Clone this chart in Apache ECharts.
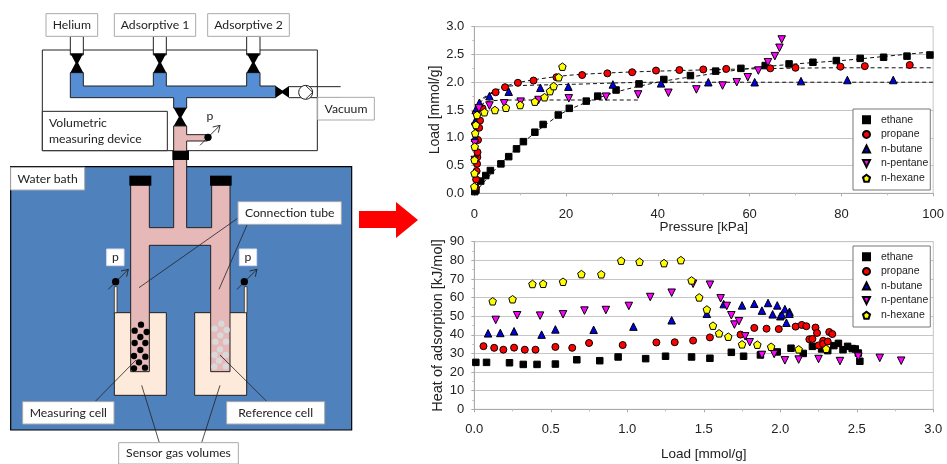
<!DOCTYPE html>
<html><head><meta charset="utf-8">
<style>html,body{margin:0;padding:0;background:#fff}#c{width:947px;height:464px}</style>
<script src="https://cdn.jsdelivr.net/npm/echarts@6/dist/echarts.min.js"></script>
</head><body><div id="c"></div>
<script>
const seriesNames = ['ethane','propane','n-butane','n-pentane','n-hexane'];
const seriesColors = ['#000000','#ff0000','#0000e0','#ff00ff','#ffff00'];
const pressureTicks = {min:0,max:100,interval:20};
const loadTicks = {min:0,max:3,interval:0.5};
const heatTicks = {min:0,max:90,interval:10};

// Isotherms: [pressure kPa, load mmol/g]
const ethaneIso = [[0.1,0.03],[0.36,0.06],[1.4,0.22],[2.5,0.32],[3.5,0.41],[5.8,0.53],[7.5,0.66],[9.2,0.80],[10.7,0.93],[13.2,1.10],[15,1.24],[18.3,1.41],[20.7,1.53],[24.4,1.66],[26.9,1.75],[30.9,1.86],[35.9,1.97],[41.3,2.05],[47.1,2.12],[52.6,2.20],[58.1,2.25],[63.4,2.30],[68.6,2.33],[73.8,2.36],[78.9,2.39],[84.1,2.43],[89.2,2.45],[94.3,2.47],[99.3,2.49]];
const propaneIso = [[0.3,0.1],[0.4,0.25],[0.5,0.4],[0.6,0.53],[0.65,0.65],[0.7,0.74],[0.8,0.96],[1.05,1.18],[1.25,1.31],[1.8,1.53],[4.65,1.82],[6.7,1.91],[9.5,1.99],[12.9,2.03],[17.9,2.09],[23.5,2.13],[29.0,2.16],[34.4,2.18],[39.6,2.21],[44.7,2.22],[49.9,2.23],[54.9,2.24],[64.5,2.25],[70.0,2.26],[79.8,2.28],[85.1,2.29],[94.9,2.31]];
const butaneIso = [[0.15,1.0],[0.2,1.3],[0.3,1.5],[1.1,1.63],[3.3,1.75],[7.5,1.83],[14.4,1.90],[20.5,1.92],[30.2,1.96],[40.7,1.98],[51,2.0],[61.1,2.0],[71.2,2.02],[81.3,2.04],[91.3,2.04]];
const pentaneIso = [[0.1,0.6],[0.1,0.9],[0.2,1.2],[0.35,1.4],[1.0,1.53],[3.3,1.58],[6.5,1.62],[10.1,1.65],[14,1.68],[20.6,1.71],[28.7,1.74],[35.7,1.78],[42.3,1.81],[48.4,1.87],[54.1,1.94],[57.2,2.0],[59.6,2.09],[61.9,2.21],[64,2.36],[65.5,2.47],[66.5,2.62],[67,2.77]];
const hexaneIso = [[0,0.12],[0.05,0.36],[0.05,0.6],[0.1,0.84],[0.2,1.08],[0.35,1.23],[0.6,1.41],[2.2,1.46],[4.5,1.5],[6.9,1.54],[10,1.59],[13.2,1.65],[15.3,1.73],[16.5,1.84],[17.3,1.93],[18.4,2.09],[19.2,2.28]];

// Dashed fits
const ethaneFit = [[0,0],[5,0.47],[10,0.87],[15,1.2],[20,1.48],[30,1.8],[40,2.0],[50,2.13],[60,2.25],[70,2.33],[80,2.39],[90,2.47],[100,2.55]];
const propaneFit = [[0.5,1.5],[1,1.65],[5,1.87],[10,2.0],[20,2.12],[30,2.17],[40,2.2],[60,2.24],[80,2.26],[100,2.26]];
const butaneFit = [[0.5,1.5],[2,1.7],[7,1.92],[10,1.94],[20,1.96],[40,2.0],[100,2.0]];
const pentaneFit = [[0.3,1.5],[3,1.66],[10,1.68],[36,1.68]];

// Heats: [load mmol/g, heat kJ/mol]
const ethaneHeat = [[0.01,25.2],[0.08,25.2],[0.23,25.0],[0.32,24.1],[0.41,24.1],[0.53,24.3],[0.67,26.6],[0.82,26.1],[0.94,28.1],[1.12,27.2],[1.25,28.5],[1.42,28.1],[1.54,27.4],[1.68,30.6],[1.76,28.5],[1.87,29.2],[1.98,30.8],[2.07,32.8],[2.15,30.0],[2.21,33.8],[2.27,32.4],[2.31,31.5],[2.35,34.2],[2.38,35.4],[2.41,32.0],[2.44,33.8],[2.47,32.6],[2.49,32.4],[2.51,30.2],[2.52,25.8]];
const propaneHeat = [[0.06,33.9],[0.13,33.0],[0.19,32.0],[0.26,33.1],[0.33,32.0],[0.40,32.0],[0.53,33.5],[0.64,33.0],[0.75,35.6],[0.97,34.5],[1.19,35.9],[1.31,36.0],[1.43,36.9],[1.54,38.6],[1.74,40.1],[1.83,43.7],[1.91,43.3],[1.99,43.1],[2.10,44.4],[2.14,45.3],[2.17,44.6],[2.23,43.9],[2.24,41.0],[2.19,37.6],[2.21,37.8],[2.25,34.3],[2.28,36.8],[2.28,35.1],[2.31,36.4],[2.32,41.5],[2.34,40.4]];
const butaneHeat = [[0.09,40.8],[0.17,41.0],[0.26,41.9],[0.44,40.1],[0.53,42.9],[0.78,42.7],[1.04,44.4],[1.29,47.8],[1.52,51.3],[1.63,56.5],[1.75,55.8],[1.83,56.7],[1.88,53.0],[1.92,57.1],[1.95,51.0],[1.98,55.8],[2.0,50.0],[2.01,50.9],[2.03,53.8],[2.04,46.5],[2.06,52.4],[2.06,51.3]];
const pentaneHeat = [[0.14,48.0],[0.28,50.5],[0.43,50.3],[0.58,51.0],[0.72,53.0],[0.86,53.3],[1.01,55.5],[1.15,60.3],[1.29,62.6],[1.43,67.4],[1.54,66.9],[1.61,59.6],[1.65,55.5],[1.68,50.5],[1.70,45.5],[1.73,47.3],[1.77,39.2],[1.80,36.0],[1.88,29.2],[1.96,29.7],[2.03,26.3],[2.12,26.7],[2.25,27.0],[2.39,25.9],[2.51,28.3],[2.65,27.6],[2.79,26.1]];
const hexaneHeat = [[0.12,58.0],[0.25,59.1],[0.38,67.3],[0.45,67.4],[0.58,68.5],[0.70,72.6],[0.83,72.5],[0.96,79.8],[1.08,79.2],[1.24,78.5],[1.35,80.1],[1.42,69.2],[1.47,60.1],[1.52,53.6],[1.56,44.9],[1.60,40.8],[1.66,39.0],[1.75,34.9],[1.85,34.7],[1.94,33.6],[2.12,32.2],[2.30,32.5]];

const isoData = [ethaneIso,propaneIso,butaneIso,pentaneIso,hexaneIso];
const heatData = [ethaneHeat,propaneHeat,butaneHeat,pentaneHeat,hexaneHeat];
const fitData = [ethaneFit,propaneFit,butaneFit,pentaneFit];

const symbols = ['rect','circle','triangle','path://M0,0 L10,0 L5,10 Z','path://M5,0 L10,3.8 L8.1,10 L1.9,10 L0,3.8 Z'];
const symbolSizes = [6.5,7,7.5,7.5,7.5];

const CHART_FONT = '"Liberation Sans", Arial, sans-serif';
const LABEL = '#222';
const GRIDC = '#c6c6c6';

function axis(gridIndex, t, name, gap, fmt, margin, nameSize){
  return {gridIndex, type:'value', min:t.min, max:t.max, interval:t.interval,
    name, nameLocation:'middle', nameGap:gap, nameMoveOverlap:false,
    nameTextStyle:{fontFamily:CHART_FONT,fontSize:nameSize,color:LABEL},
    axisLine:{show:true,onZero:false,lineStyle:{color:'#aaa'}},
    axisTick:{show:true,length:3,lineStyle:{color:'#aaa'}},
    minorTick:{show:true,splitNumber:2,length:2,lineStyle:{color:'#bbb'}},
    axisLabel:{fontFamily:CHART_FONT,fontSize:13,color:LABEL,margin,formatter:fmt,hideOverlap:false,showMinLabel:true,showMaxLabel:true}};
}
const xA0 = axis(0,pressureTicks,'Pressure [kPa]',27,v=>String(v),15,13.5); xA0.splitLine={show:false};
const yA0 = axis(0,loadTicks,'Load [mmol/g]',32,v=>v.toFixed(1),10,14); yA0.splitLine={show:true,lineStyle:{color:GRIDC,width:1.2}};
const xA1 = axis(1,loadTicks,'Load [mmol/g]',38,v=>v.toFixed(1),14,13.5); xA1.splitLine={show:false};
const yA1 = axis(1,heatTicks,'Heat of adsorption [kJ/mol]',29,v=>String(v),10,14.5); yA1.splitLine={show:true,lineStyle:{color:GRIDC,width:1.2}};

const series = [];
fitData.forEach((d,i)=>series.push({type:'line',name:'fit '+seriesNames[i],xAxisIndex:0,yAxisIndex:0,data:d,smooth:0.3,showSymbol:false,symbol:'none',silent:true,z:2,
  lineStyle:{color:'#111',width:1,type:[4,3]}}));
function scat(dataList,idx){ dataList.forEach((d,i)=>series.push({type:'scatter',name:seriesNames[i],xAxisIndex:idx,yAxisIndex:idx,data:d,
  symbol:symbols[i],symbolSize:symbolSizes[i],z:3+i,itemStyle:{color:seriesColors[i],borderColor:'#000',borderWidth:1,opacity:1}})); }
scat(isoData,0); scat(heatData,1);

function legend(top){ return {show:true,orient:'vertical',left:853,top,data:seriesNames,selectedMode:false,
  padding:[5,2,6,9],itemWidth:7,itemHeight:7,itemGap:3,
  backgroundColor:'#fff',borderColor:'#777',borderWidth:1,z:20,
  textStyle:{fontFamily:CHART_FONT,fontSize:10.5,color:'#222',lineHeight:11.6,height:11.6,padding:[0,0,0,6]}}; }

// ---- Schematic (decorative drawing, traced at 3x and scaled) ----
const BLACK='#000', BATH='#4f81bd', PIPE='#558ed5', PINK='#e6b9b8', CREAM='#fdeada', WHITE='#fff', EDGE='#222', LB='#aaa';
const S=v=>v/3;
const g=[];
function poly(pts,fill,stroke,lw){g.push({type:'polygon',shape:{points:pts.map(p=>[S(p[0]),S(p[1])])},style:{fill,stroke:stroke||null,lineWidth:lw||1}});}
function rect(x0,y0,x1,y1,fill,stroke,lw){g.push({type:'rect',shape:{x:S(x0),y:S(y0),width:S(x1-x0),height:S(y1-y0)},style:{fill,stroke:stroke||null,lineWidth:lw||1}});}
function line(x0,y0,x1,y1,c,lw){g.push({type:'line',shape:{x1:S(x0),y1:S(y0),x2:S(x1),y2:S(y1)},style:{stroke:c||EDGE,lineWidth:lw||0.8}});}
function dot(x,y,r,fill){g.push({type:'circle',shape:{cx:S(x),cy:S(y),r:S(r)},style:{fill}});}
function text(t,x,y,align){g.push({type:'text',style:{text:t,x:S(x),y:S(y),fill:'#222',font:'12.2px Lato, "Open Sans", sans-serif',align:align||'center',verticalAlign:'middle'}});}
function label(x0,y0,x1,y1,lines,border){rect(x0,y0,x1,y1,WHITE,border||LB,1);lines.forEach((l,i)=>text(l,(x0+x1)/2,(y0+y1)/2+(i-(lines.length-1)/2)*48));}
function vvalve(x0,y0,x1,y1){const cx=(x0+x1)/2,cy=(y0+y1)/2;poly([[x0,y0],[x1,y0],[cx+4,cy],[x1,y1],[x0,y1],[cx-4,cy]],BLACK);}
function hvalve(x0,y0,x1,y1){const cx=(x0+x1)/2,cy=(y0+y1)/2;poly([[x0,y0],[cx,cy-4],[x1,y0],[x1,y1],[cx,cy+4],[x0,y1]],BLACK);}
function gauge(x,y,ax,ay,bx,by){line(ax,ay,bx,by,EDGE,0.9);line(bx,by,bx-22,by+5,EDGE,0.9);line(bx,by,bx-5,by+22,EDGE,0.9);dot(x,y,11,BLACK);}

// y values below are zoom-3x full-image coordinates
// volumetric device
rect(127,150,952,452,WHITE,EDGE,1);
// inlet tubes
[[211,250],[460,499],[740,780]].forEach(p=>{rect(p[0],109,p[1],165,WHITE,EDGE,1);});
// blue manifold
poly([[211,218],[250,218],[250,258],[460,258],[460,218],[499,218],[499,258],[740,258],[740,218],[780,218],[780,258],[827,258],[827,293],[560,293],[560,324],[521,324],[521,293],[211,293]],PIPE,EDGE,1);
vvalve(211,160,250,218);vvalve(460,160,499,218);vvalve(740,160,780,218);
// vacuum line
line(867,260,1022,260,EDGE,1);line(867,293,1022,293,EDGE,1);
hvalve(827,258,867,293);
g.push({type:'circle',shape:{cx:S(917),cy:S(277),r:S(21)},style:{fill:WHITE,stroke:EDGE,lineWidth:1}});
line(917,257,938,277,EDGE,0.9);line(917,297,938,277,EDGE,0.9);
vvalve(521,324,560,378);
// pink device pipe
poly([[521,378],[560,378],[560,404],[622,404],[622,423],[560,423],[560,480],[521,480]],PINK,EDGE,1);
gauge(624,412,600,436,660,376);
text('p',630,347);
// labels on device
label(138,41,293,109,['Helium']);
label(343,41,587,109,['Adsorptive 1']);
label(623,41,868,109,['Adsorptive 2']);
label(953,292,1123,360,['Vacuum']);
rect(127,334,502,452,WHITE,EDGE,1);
text('Volumetric',147,369,'left');text('measuring device',147,417,'left');
// water bath
rect(32,500,1055,1290,BATH,BLACK,1.2);
rect(32,502,254,570,WHITE,LB,1);text('Water bath',143,536);
// cream cells
rect(343,938,499,1186,CREAM,EDGE,1);
rect(584,938,740,1186,CREAM,EDGE,1);
rect(343,860,351,938,CREAM,EDGE,0.7);
rect(733,860,741,938,CREAM,EDGE,0.7);
// pink H-tube
poly([[392,555],[392,1115],[448,1115],[448,736],[632,736],[632,1115],[690,1115],[690,555],[635,555],[635,683],[560,683],[560,470],[521,470],[521,683],[448,683],[448,555]],PINK,EDGE,1);
rect(517,452,567,480,BLACK);
rect(388,527,454,557,BLACK);
rect(630,527,695,557,BLACK);
// particles
[[423,974],[404,992],[440,996],[421,1011],[404,1029],[436,1029],[421,1050],[402,1068],[436,1070],[417,1087],[402,1105],[435,1103]].forEach(p=>dot(p[0],p[1],9.5,BLACK));
[[664,971],[644,986],[680,990],[661,1006],[646,1025],[678,1025],[660,1048],[644,1065],[677,1065],[657,1082],[643,1100],[677,1099]].forEach(p=>dot(p[0],p[1],9.5,'#d9d9d9'));
// gauges on bath
gauge(347,845,325,868,385,808);
gauge(733,845,711,868,771,808);
label(320,747,372,797,['p'],'#dde');
label(718,747,770,797,['p'],'#dde');
// leader lines
line(713,655,417,863);line(741,675,657,868);
line(285,1205,408,1080);line(801,1205,660,1065);
line(478,1328,425,1156);line(605,1328,660,1156);
// labels on bath
label(714,605,1024,673,['Connection tube']);
label(68,1205,342,1272,['Measuring cell']);
label(680,1205,974,1272,['Reference cell']);
label(356,1328,715,1392,['Sensor gas volumes']);
// red arrow
g.push({type:'polygon',shape:{points:[[359,211],[396,211],[396,202],[418,220],[396,238],[396,228],[359,228]]},style:{fill:'#ff0000'}});

const chart = echarts.init(document.getElementById('c'),null,{renderer:'canvas'});
chart.setOption({
  animation:false, backgroundColor:'#fff',
  grid:[
    {left:474.3,top:26.7,width:459,height:166.6,show:true,borderColor:GRIDC,borderWidth:1,backgroundColor:'transparent'},
    {left:474.3,top:241.7,width:459,height:167.6,show:true,borderColor:GRIDC,borderWidth:1,backgroundColor:'transparent'}
  ],
  xAxis:[xA0,xA1], yAxis:[yA0,yA1],
  legend:[legend(109),legend(246)],
  series, graphic:{elements:g}
});
</script></body></html>
